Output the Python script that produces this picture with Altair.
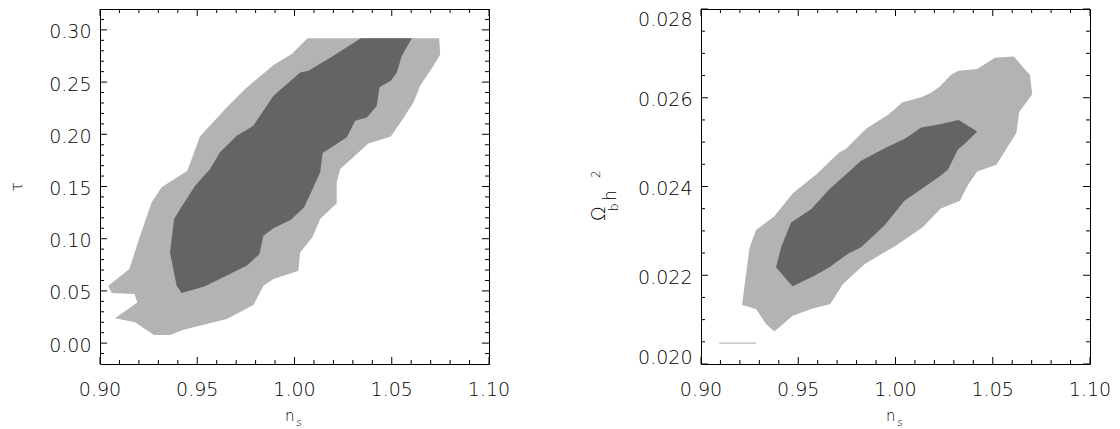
import altair as alt
import pandas as pd

# ---------------- data ----------------
# left panel: tau vs n_s
tau_outer_ns = [1.0067, 1.0744, 1.0749, 1.0698, 1.0646, 1.0612, 1.0557, 1.0495, 1.0380, 1.0235,
                1.0217, 1.0217, 1.0132, 1.0092, 1.0029, 1.0020, 0.9892, 0.9840, 0.9789, 0.9652,
                0.9429, 0.9360, 0.9278, 0.9180, 0.9077, 0.9192, 0.9177, 0.9060, 0.9043, 0.9151,
                0.9206, 0.9266, 0.9317, 0.9449, 0.9514, 0.9652, 0.9746, 0.9892, 0.9986]
tau_outer_tau = [0.2919, 0.2919, 0.2763, 0.2609, 0.2466, 0.2306, 0.2146, 0.1980, 0.1913, 0.1667,
                 0.1540, 0.1339, 0.1189, 0.1013, 0.0869, 0.0694, 0.0614, 0.0550, 0.0365, 0.0231,
                 0.0129, 0.0077, 0.0077, 0.0199, 0.0237, 0.0390, 0.0470, 0.0480, 0.0550, 0.0710,
                 0.1029, 0.1348, 0.1492, 0.1652, 0.1980, 0.2258, 0.2434, 0.2664, 0.2769]
tau_inner_ns = [1.0341, 1.0603, 1.0552, 1.0526, 1.0495, 1.0437, 1.0423, 1.0372, 1.0312, 1.0269,
                1.0145, 1.0132, 1.0089, 1.0049, 0.9981, 0.9892, 0.9840, 0.9820, 0.9754, 0.9686,
                0.9540, 0.9420, 0.9394, 0.9360, 0.9381, 0.9412, 0.9489, 0.9566, 0.9617, 0.9703,
                0.9789, 0.9892, 1.0029, 1.0072, 1.0200]
tau_inner_tau = [0.2919, 0.2919, 0.2753, 0.2593, 0.2514, 0.2450, 0.2274, 0.2162, 0.2130, 0.1971,
                 0.1821, 0.1636, 0.1460, 0.1300, 0.1182, 0.1099, 0.1029, 0.0853, 0.0742, 0.0678,
                 0.0544, 0.0480, 0.0550, 0.0869, 0.1189, 0.1284, 0.1508, 0.1667, 0.1827, 0.1987,
                 0.2083, 0.2370, 0.2593, 0.2609, 0.2753]

# right panel: Omega_b h^2 vs n_s
ob_outer_ns = [1.0608, 1.0674, 1.0691, 1.0703, 1.0636, 1.0622, 1.0579, 1.0519, 1.0420, 1.0373,
               1.0331, 1.0231, 1.0140, 1.0003, 0.9840, 0.9729, 0.9665, 0.9566, 0.9472, 0.9377,
               0.9334, 0.9283, 0.9211, 0.9249, 0.9283, 0.9377, 0.9472, 0.9592, 0.9712, 0.9746,
               0.9849, 0.9960, 1.0037, 1.0132, 1.0183, 1.0226, 1.0286, 1.0324, 1.0420, 1.0511]
ob_outer_ob = [0.02693, 0.02660, 0.02652, 0.02608, 0.02568, 0.02521, 0.02491, 0.02449, 0.02434, 0.02404,
               0.02368, 0.02350, 0.02308, 0.02267, 0.02225, 0.02180, 0.02135, 0.02124, 0.02109, 0.02073,
               0.02090, 0.02124, 0.02133, 0.02261, 0.02302, 0.02333, 0.02385, 0.02427, 0.02477, 0.02485,
               0.02530, 0.02561, 0.02590, 0.02601, 0.02611, 0.02625, 0.02652, 0.02661, 0.02665, 0.02690]
ob_inner_ns = [0.9463, 0.9566, 0.9660, 0.9823, 0.9952, 1.0046, 1.0132, 1.0235, 1.0324, 1.0420,
               1.0372, 1.0320, 1.0269, 1.0221, 1.0132, 1.0046, 0.9943, 0.9823, 0.9754, 0.9660,
               0.9583, 0.9514, 0.9472, 0.9454, 0.9386, 0.9412]
ob_inner_ob = [0.02319, 0.02349, 0.02394, 0.02458, 0.02488, 0.02507, 0.02533, 0.02541, 0.02550, 0.02524,
               0.02503, 0.02483, 0.02438, 0.02421, 0.02394, 0.02368, 0.02312, 0.02263, 0.02248, 0.02218,
               0.02199, 0.02184, 0.02175, 0.02183, 0.02218, 0.02263]
ob_stray_ns = [0.9094, 0.9283]
ob_stray_ob = [0.02047, 0.02047]

# axis ticks and tick labels
ns_major = [0.90, 0.95, 1.00, 1.05, 1.10]
ns_labels = ["0.90", "0.95", "1.00", "1.05", "1.10"]
ns_minor = [0.91, 0.92, 0.93, 0.94, 0.96, 0.97, 0.98, 0.99,
            1.01, 1.02, 1.03, 1.04, 1.06, 1.07, 1.08, 1.09]
tau_major = [0.00, 0.05, 0.10, 0.15, 0.20, 0.25, 0.30]
tau_labels = ["0.00", "0.05", "0.10", "0.15", "0.20", "0.25", "0.30"]
tau_minor = [-0.01, 0.01, 0.02, 0.03, 0.04, 0.06, 0.07, 0.08, 0.09, 0.11, 0.12, 0.13, 0.14,
             0.16, 0.17, 0.18, 0.19, 0.21, 0.22, 0.23, 0.24, 0.26, 0.27, 0.28, 0.29, 0.31]
ob_major = [0.020, 0.022, 0.024, 0.026, 0.028]
ob_labels = ["0.020", "0.022", "0.024", "0.026", "0.028"]
ob_minor = [0.0205, 0.0210, 0.0215, 0.0225, 0.0230, 0.0235, 0.0245, 0.0250, 0.0255,
            0.0265, 0.0270, 0.0275]

# ---------------- style ----------------
W, H = 389, 355
FONT = "DejaVu Sans"
WEIGHT = 200
TXT = "#000000"
LIGHT = "#b3b3b3"
DARK = "#646464"
LSIZE = 19
MAJ, MIN = 7, 4


def poly_df(xs, ys):
    return pd.DataFrame({"x": xs, "y": ys, "i": list(range(len(xs)))})


def text_layer(txt, x, y, size, angle=0, align="left"):
    return alt.Chart(pd.DataFrame({"t": [txt]})).mark_text(
        text=txt, align=align, baseline="alphabetic", font=FONT, fontSize=size,
        fontWeight=WEIGHT, color=TXT, angle=angle
    ).encode(x=alt.value(x), y=alt.value(y))


def panel(outer, inner, ydom, ymaj, ylab, ymin, extra, titles, flush):
    xs = alt.Scale(domain=[0.9, 1.1], nice=False, zero=False)
    ys = alt.Scale(domain=ydom, nice=False, zero=False)

    def X(f):
        return alt.X(f, scale=xs, axis=None)

    def Y(f):
        return alt.Y(f, scale=ys, axis=None)

    layers = []
    layers.append(alt.Chart(poly_df(*outer)).mark_line(fill=LIGHT, stroke=LIGHT, strokeWidth=0).encode(
        x=X("x:Q"), y=Y("y:Q"), order=alt.Order("i:Q")))
    layers.append(alt.Chart(poly_df(*inner)).mark_line(fill=DARK, stroke=DARK, strokeWidth=0).encode(
        x=X("x:Q"), y=Y("y:Q"), order=alt.Order("i:Q")))
    if extra is not None:
        layers.append(alt.Chart(poly_df(*extra)).mark_line(color="#bbbbbb", strokeWidth=1.2).encode(
            x=X("x:Q"), y=Y("y:Q"), order=alt.Order("i:Q")))

    def xt(vals, ln):
        base = alt.Chart(pd.DataFrame({"v": vals})).mark_rule(color="black", strokeWidth=1)
        return [base.encode(x=X("v:Q"), y=alt.value(0), y2=alt.value(ln)),
                base.encode(x=X("v:Q"), y=alt.value(H), y2=alt.value(H - ln))]

    def yt(vals, ln):
        base = alt.Chart(pd.DataFrame({"v": vals})).mark_rule(color="black", strokeWidth=1)
        return [base.encode(y=Y("v:Q"), x=alt.value(0), x2=alt.value(ln)),
                base.encode(y=Y("v:Q"), x=alt.value(W), x2=alt.value(W - ln))]

    layers += xt(ns_major, MAJ) + xt(ns_minor, MIN) + yt(ymaj, MAJ) + yt(ymin, MIN)

    # tick labels
    tstyle = dict(baseline="alphabetic", font=FONT, fontSize=LSIZE, fontWeight=WEIGHT, color=TXT)
    layers.append(alt.Chart(pd.DataFrame({"v": ns_major, "t": ns_labels})).mark_text(
        align="center", **tstyle).encode(x=X("v:Q"), y=alt.value(H + 32), text="t:N"))
    ydf = pd.DataFrame({"v": ymaj, "t": ylab})
    if flush:
        mid = ydf.iloc[1:-1]
        layers.append(alt.Chart(ydf.iloc[[0]]).mark_text(align="right", dy=0, **tstyle).encode(
            y=Y("v:Q"), x=alt.value(-8.5), text="t:N"))
        layers.append(alt.Chart(ydf.iloc[[-1]]).mark_text(align="right", dy=17, **tstyle).encode(
            y=Y("v:Q"), x=alt.value(-8.5), text="t:N"))
    else:
        mid = ydf
    layers.append(alt.Chart(mid).mark_text(align="right", dy=8.5, **tstyle).encode(
        y=Y("v:Q"), x=alt.value(-8.5), text="t:N"))

    layers += titles
    return alt.layer(*layers).properties(width=W, height=H)


ns_titles = [text_layer("n", 185, H + 57, 15), text_layer("s", 196, H + 62, 11)]

left = panel((tau_outer_ns, tau_outer_tau), (tau_inner_ns, tau_inner_tau),
             [-0.02, 0.32], tau_major, tau_labels, tau_minor, None,
             ns_titles + [text_layer("τ", -78, 178, 16, 270, "center")], False)

right_titles = ns_titles + [
    text_layer("Ω", -96, 212, 19, 270),
    text_layer("b", -83, 202, 12, 270),
    text_layer("h", -85, 192, 17, 270),
    text_layer("2", -101, 169, 12, 270),
]
right = panel((ob_outer_ns, ob_outer_ob), (ob_inner_ns, ob_inner_ob),
              [0.020, 0.028], ob_major, ob_labels, ob_minor,
              (ob_stray_ns, ob_stray_ob), right_titles, True)

chart = alt.hconcat(left, right, spacing=78).properties(padding=0).configure_view(
    stroke="black", strokeWidth=1
)

chart.save("out.html", embed_options={"renderer": "svg", "actions": False})
